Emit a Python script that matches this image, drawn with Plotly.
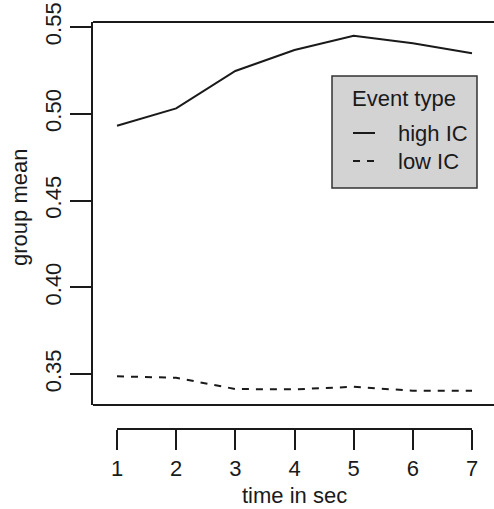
import plotly.graph_objects as go

time_sec = [1, 2, 3, 4, 5, 6, 7]
high_ic = [0.4931, 0.5031, 0.5247, 0.5368, 0.5450, 0.5406, 0.5349]
low_ic = [0.3487, 0.3479, 0.3414, 0.3412, 0.3427, 0.3404, 0.3404]
y_ticks = [0.35, 0.40, 0.45, 0.50, 0.55]
y_tick_labels = ["0.35", "0.40", "0.45", "0.50", "0.55"]
legend_title = "Event type"
series_names = ["high IC", "low IC"]
x_title = "time in sec"
y_title = "group mean"

FONT = "Liberation Sans, Arial, sans-serif"
INK = "#1a1a1a"
FS = 22

W, H = 494, 509
L, R, T, B = 93, 0, 22, 80
PH = H - T - B  # paper height
PW = W - L - R
ybot = (429 - 405) / PH


def px(x):
    return (x - L) / PW


def py(y):
    return (H - B - y) / PH


fig = go.Figure()
fig.add_trace(go.Scatter(x=time_sec, y=high_ic, mode="lines", name=series_names[0],
                         line=dict(color=INK, width=2), showlegend=False))
fig.add_trace(go.Scatter(x=time_sec, y=low_ic, mode="lines", name=series_names[1],
                         line=dict(color=INK, width=2, dash="7px,7px"), showlegend=False))

shapes = [
    dict(type="line", xref="paper", yref="paper", x0=0, x1=1.01, y0=1, y1=1,
         line=dict(color=INK, width=2)),
    dict(type="line", xref="paper", yref="paper", x0=0, x1=1.01, y0=ybot, y1=ybot,
         line=dict(color=INK, width=2)),
    dict(type="line", xref="x", yref="paper", x0=time_sec[0], x1=time_sec[-1], y0=0, y1=0,
         line=dict(color=INK, width=2)),
    dict(type="rect", xref="paper", yref="paper", x0=px(332), x1=px(477), y0=py(188), y1=py(76),
         fillcolor="#d3d3d3", line=dict(color="#333333", width=1.5)),
    dict(type="line", xref="paper", yref="paper", x0=px(353), x1=px(375), y0=py(133), y1=py(133),
         line=dict(color=INK, width=2)),
    dict(type="line", xref="paper", yref="paper", x0=px(353), x1=px(375), y0=py(161), y1=py(161),
         line=dict(color=INK, width=2, dash="7px,7px")),
]

tf = dict(size=FS, color=INK, family=FONT)
annotations = [
    dict(text=legend_title, xref="paper", yref="paper", x=px(404), y=py(98),
         showarrow=False, xanchor="center", yanchor="middle", font=tf),
    dict(text=series_names[0], xref="paper", yref="paper", x=px(396), y=py(133),
         showarrow=False, xanchor="left", yanchor="middle", font=tf),
    dict(text=series_names[1], xref="paper", yref="paper", x=px(396), y=py(161),
         showarrow=False, xanchor="left", yanchor="middle", font=tf),
    dict(text=x_title, xref="paper", yref="paper", x=px(294), y=py(495),
         showarrow=False, xanchor="center", yanchor="middle", font=tf),
    dict(text=y_title, xref="paper", yref="paper", x=px(19), y=py(208), textangle=-90,
         showarrow=False, xanchor="center", yanchor="middle", font=tf),
]

fig.update_layout(
    width=W, height=H,
    margin=dict(l=L, r=R, t=T, b=B, pad=0),
    paper_bgcolor="white", plot_bgcolor="white",
    font=dict(family=FONT, size=FS, color=INK),
    shapes=shapes, annotations=annotations,
    showlegend=False, hovermode=False,
    xaxis=dict(range=[1 - 24 / 59.17, 7 + 22 / 59.17], anchor="free", position=0,
               tickvals=time_sec, ticktext=[str(t) for t in time_sec],
               ticks="outside", ticklen=20, tickwidth=2, tickcolor=INK,
               ticklabeloverflow="allow",
               showline=False, showgrid=False, zeroline=False, automargin=False),
    yaxis=dict(domain=[ybot, 1], range=[0.3322, 0.5529],
               tickvals=y_ticks, ticktext=y_tick_labels, tickangle=-90,
               ticks="outside", ticklen=21, tickwidth=2, tickcolor=INK,
               ticklabeloverflow="allow",
               showline=True, linewidth=2, linecolor=INK,
               showgrid=False, zeroline=False, automargin=False),
)

fig.write_html("out.html",
               config={"displayModeBar": False, "staticPlot": True},
               post_script="document.body.style.margin='0px';document.body.style.overflow='hidden';")
